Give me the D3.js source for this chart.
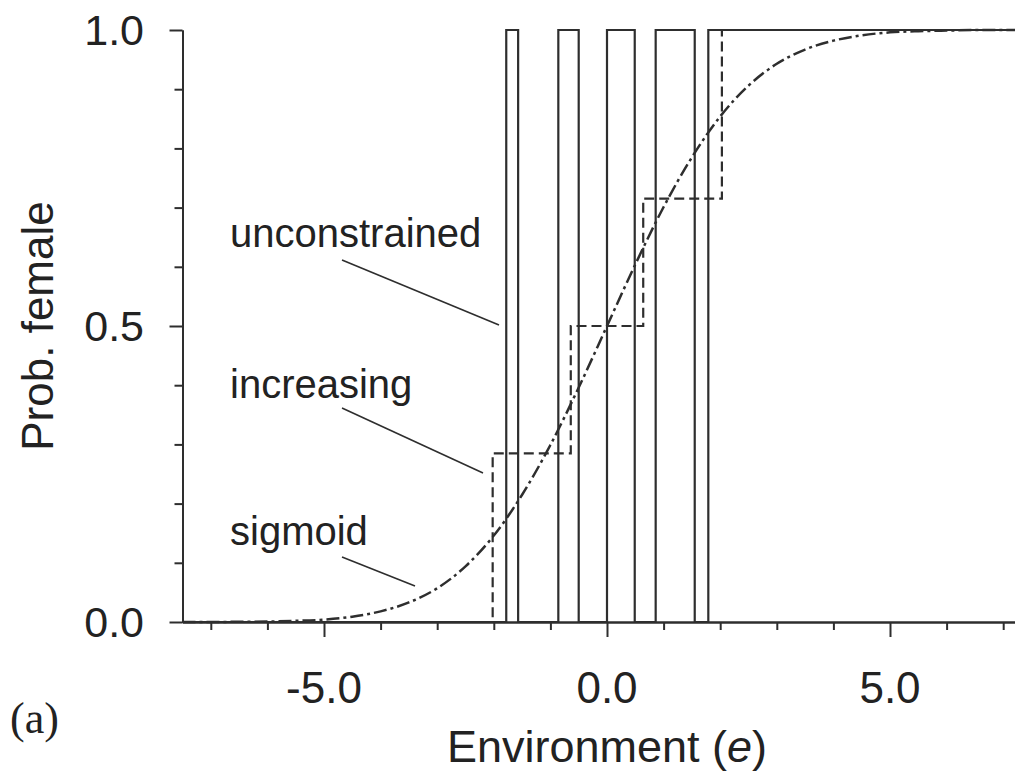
<!DOCTYPE html>
<html>
<head>
<meta charset="utf-8">
<script src="https://cdn.jsdelivr.net/npm/d3@7"></script>
<style>
  html, body { margin: 0; padding: 0; background: #fff; }
  svg { display: block; }
</style>
</head>
<body>
<svg id="chart" width="1015" height="778"></svg>
<script>
// ---- data ----
const xDomain = [-7.5, 7.5];
const yDomain = [0, 1];
const xMajorTicks = [-5, 0, 5];
const xMajorLabels = ["-5.0", "0.0", "5.0"];
const xMinorTicks = [-7, -6, -4, -3, -2, -1, 1, 2, 3, 4, 6, 7];
const yMajorTicks = [0, 0.5, 1];
const yMajorLabels = ["0.0", "0.5", "1.0"];
const yMinorTicks = [0.1, 0.2, 0.3, 0.4, 0.6, 0.7, 0.8, 0.9];

// unconstrained (step function switching between 0 and 1)
const uncE = [-7.5, -1.78, -1.57, -0.86, -0.5, 0.0, 0.49, 0.86, 1.55, 1.79, 7.5];
const uncP = [0, 1, 0, 1, 0, 1, 0, 1, 0, 1, 1];

// increasing (monotone step function)
const incE = [-7.5, -2.02, -0.64, 0.64, 2.03, 7.5];
const incP = [0, 0.285, 0.5, 0.715, 1, 1];

// sigmoid
const sigE = [-7.5, -7, -6.5, -6, -5.5, -5, -4.5, -4, -3.5, -3, -2.5, -2, -1.5, -1, -0.5, 0,
              0.5, 1, 1.5, 2, 2.5, 3, 3.5, 4, 4.5, 5, 5.5, 6, 6.5, 7, 7.5];
const sigP = [0.0, 0.0001, 0.0003, 0.0008, 0.002, 0.004, 0.009, 0.018, 0.033, 0.057, 0.094, 0.146, 0.215, 0.299, 0.396, 0.5,
              0.604, 0.701, 0.785, 0.854, 0.906, 0.943, 0.967, 0.982, 0.991, 0.996, 0.998, 0.999, 1.0, 1.0, 1.0];

const labels = ["unconstrained", "increasing", "sigmoid"];
const xTitle = "Environment (";
const xTitleItalic = "e";
const yTitle = "Prob. female";
const panelLabel = "(a)";

// ---- layout ----
const svg = d3.select("#chart");
const ink = "#2e2e2e";
const font = "'Liberation Sans', Arial, Helvetica, sans-serif";

const x = d3.scaleLinear().domain(xDomain).range([182.5, 1031.5]);
const y = d3.scaleLinear().domain(yDomain).range([622, 30]);

const g = svg.append("g");

// axes
const xAxisMinor = d3.axisBottom(x).tickValues(xMinorTicks).tickSize(8).tickFormat("").tickSizeOuter(0);
const xAxisMajor = d3.axisBottom(x).tickValues(xMajorTicks).tickSize(15).tickFormat("").tickSizeOuter(0);
const yAxisMinor = d3.axisLeft(y).tickValues(yMinorTicks).tickSize(8).tickFormat("").tickSizeOuter(0);
const yAxisMajor = d3.axisLeft(y).tickValues(yMajorTicks).tickSize(13).tickFormat("").tickSizeOuter(0);

function styleAxis(sel) {
  sel.selectAll("path, line").attr("stroke", ink).attr("stroke-width", 2);
}
g.append("g").attr("transform", `translate(0,${y(0)})`).call(xAxisMinor).call(styleAxis);
g.append("g").attr("transform", `translate(0,${y(0)})`).call(xAxisMajor).call(styleAxis);
g.append("g").attr("transform", `translate(${x(xDomain[0])},0)`).call(yAxisMinor).call(styleAxis);
g.append("g").attr("transform", `translate(${x(xDomain[0])},0)`).call(yAxisMajor).call(styleAxis);

// tick labels
g.selectAll(".xl").data(xMajorTicks).enter().append("text")
  .attr("x", d => x(d)).attr("y", 703)
  .attr("text-anchor", "middle")
  .attr("font-family", font).attr("font-size", 44).attr("fill", "#222")
  .text((d, i) => xMajorLabels[i]);

g.selectAll(".yl").data(yMajorTicks).enter().append("text")
  .attr("x", 144).attr("y", d => y(d)).attr("dy", "0.36em")
  .attr("text-anchor", "end")
  .attr("font-family", font).attr("font-size", 43).attr("fill", "#222")
  .text((d, i) => yMajorLabels[i]);

// axis titles
const xt = g.append("text")
  .attr("x", x(0)).attr("y", 762)
  .attr("text-anchor", "middle")
  .attr("font-family", font).attr("font-size", 45).attr("fill", "#222");
xt.append("tspan").text(xTitle);
xt.append("tspan").attr("font-style", "italic").text(xTitleItalic);
xt.append("tspan").text(")");

g.append("text")
  .attr("transform", `translate(53,${y(0.5)}) rotate(-90)`)
  .attr("text-anchor", "middle")
  .attr("font-family", font).attr("font-size", 44).attr("fill", "#222")
  .text(yTitle);

g.append("text")
  .attr("x", 10).attr("y", 733)
  .attr("font-family", "'Liberation Serif', 'Times New Roman', serif").attr("font-size", 44).attr("fill", "#222")
  .text(panelLabel);

// series
const stepLine = d3.line().x(d => x(d[0])).y(d => y(d[1])).curve(d3.curveStepAfter);
const smoothLine = d3.line().x(d => x(d[0])).y(d => y(d[1])).curve(d3.curveMonotoneX);

g.append("path")
  .datum(sigE.map((e, i) => [e, sigP[i]]))
  .attr("d", smoothLine)
  .attr("fill", "none").attr("stroke", ink).attr("stroke-width", 2.5)
  .attr("stroke-dasharray", "13,4,3,4");

g.append("path")
  .datum(incE.map((e, i) => [e, incP[i]]))
  .attr("d", stepLine)
  .attr("fill", "none").attr("stroke", ink).attr("stroke-width", 2.2)
  .attr("stroke-dasharray", "10,5");

g.append("path")
  .datum(uncE.map((e, i) => [e, uncP[i]]))
  .attr("d", stepLine)
  .attr("fill", "none").attr("stroke", ink).attr("stroke-width", 2.2);

// annotations (text + leader lines)
const annText = [[230, 247], [230, 398], [230, 545]];
const annLine = [[[342, 260], [499, 325]], [[342, 408], [483, 473]], [[342, 557], [415, 586]]];
labels.forEach((t, i) => {
  g.append("text")
    .attr("x", annText[i][0]).attr("y", annText[i][1])
    .attr("font-family", font).attr("font-size", 40).attr("fill", "#222")
    .text(t);
  g.append("line")
    .attr("x1", annLine[i][0][0]).attr("y1", annLine[i][0][1])
    .attr("x2", annLine[i][1][0]).attr("y2", annLine[i][1][1])
    .attr("stroke", ink).attr("stroke-width", 1.6);
});
</script>
</body>
</html>
